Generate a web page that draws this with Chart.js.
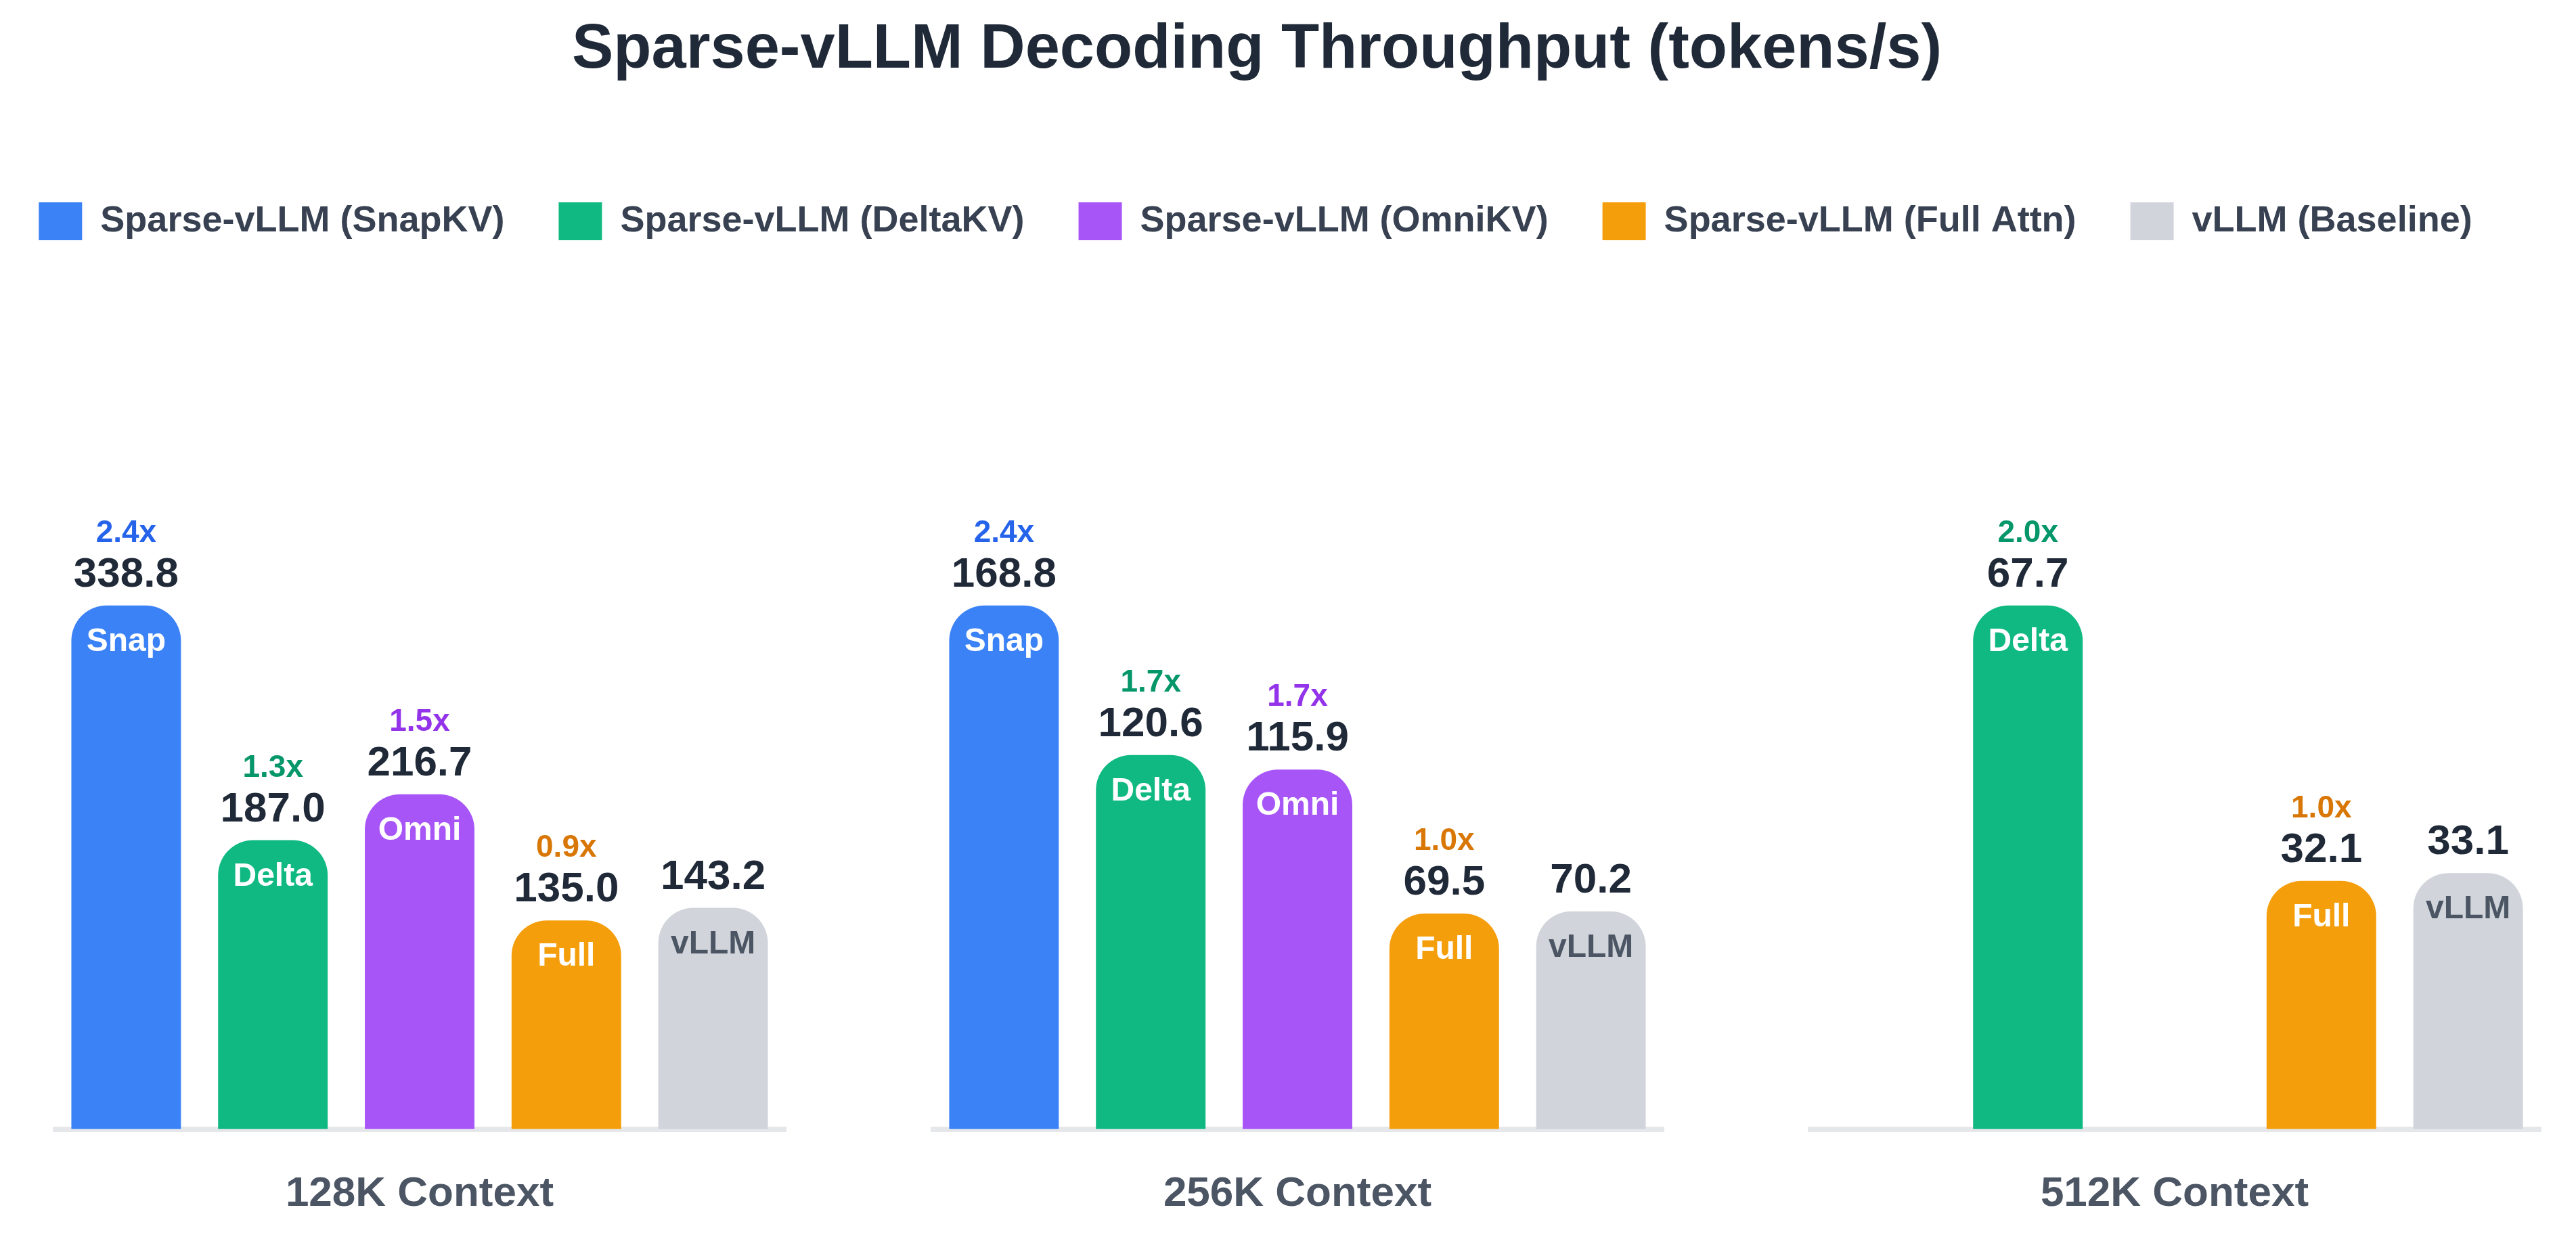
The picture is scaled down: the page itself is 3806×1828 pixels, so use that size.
<!DOCTYPE html>
<html>
<head>
<meta charset="utf-8">
<title>Sparse-vLLM Decoding Throughput</title>
<script src="https://cdn.jsdelivr.net/npm/chart.js@4.4.1/dist/chart.umd.min.js"></script>
<style>
  html, body { margin: 0; padding: 0; background: #ffffff; }
  #wrap { position: relative; width: 3806px; height: 1828px; overflow: hidden; }
  canvas { position: absolute; }
</style>
</head>
<body>
<div id="wrap">
  <canvas id="title" width="3714" height="219" style="left:0;top:0"></canvas>
  <canvas id="legend" width="3810" height="380" style="left:-50px;top:219px"></canvas>
  <canvas id="chart128" width="1084" height="1202" style="left:78px;top:600px"></canvas>
  <canvas id="chart256" width="1084" height="1202" style="left:1375px;top:600px"></canvas>
  <canvas id="chart512" width="1084" height="1202" style="left:2671px;top:600px"></canvas>
</div>
<script>
const FONT = "'Liberation Sans', Arial, Helvetica, sans-serif";

// methods shown in the legend and the short names written inside the bars
const methods = ['Sparse-vLLM (SnapKV)', 'Sparse-vLLM (DeltaKV)', 'Sparse-vLLM (OmniKV)', 'Sparse-vLLM (Full Attn)', 'vLLM (Baseline)'];
const shortNames = ['Snap', 'Delta', 'Omni', 'Full', 'vLLM'];

// decoding throughput (tokens/s) per context length
const throughput128 = [338.8, 187.0, 216.7, 135.0, 143.2];
const throughput256 = [168.8, 120.6, 115.9, 69.5, 70.2];
const throughput512 = [null, 67.7, null, 32.1, 33.1];

// speedup over the vLLM baseline, as printed above the bars
const speedup128 = ['2.4x', '1.3x', '1.5x', '0.9x', null];
const speedup256 = ['2.4x', '1.7x', '1.7x', '1.0x', null];
const speedup512 = [null, '2.0x', null, '1.0x', null];

const barColors = ['#3b82f6', '#10b981', '#a855f7', '#f59e0b', '#d1d5db'];
const speedupColors = ['#2563eb', '#059669', '#9333ea', '#d97706', '#4b5563'];
const innerTextColors = ['#ffffff', '#ffffff', '#ffffff', '#ffffff', '#4b5563'];

// draws speedup, value and short name for every bar
const barLabels = {
    id: 'barLabels',
    afterDatasetsDraw(chart, args, opts) {
        const ctx = chart.ctx;
        const values = chart.data.datasets[0].data;
        const meta = chart.getDatasetMeta(0);
        ctx.save();
        ctx.textAlign = 'center';
        ctx.textBaseline = 'alphabetic';
        meta.data.forEach((bar, i) => {
            if (values[i] === null) return;
            ctx.font = 'bold 48px ' + FONT;
            ctx.fillStyle = innerTextColors[i];
            ctx.fillText(shortNames[i], bar.x, bar.y + 67);

            ctx.font = 'bold 62px ' + FONT;
            ctx.fillStyle = '#1f2937';
            ctx.fillText(values[i].toFixed(1), bar.x, bar.y - 28);

            if (opts.speedups[i]) {
                ctx.font = 'bold 46px ' + FONT;
                ctx.fillStyle = speedupColors[i];
                ctx.fillText(opts.speedups[i], bar.x, bar.y - 94);
            }
        });
        ctx.restore();
    }
};

function makePanel(id, title, values, speedups) {
    const ctx = document.getElementById(id).getContext('2d');
    return new Chart(ctx, {
        type: 'bar',
        data: {
            labels: shortNames,
            datasets: [{
                data: values,
                backgroundColor: barColors,
                borderRadius: { topLeft: 52, topRight: 52, bottomLeft: 0, bottomRight: 0 },
                borderSkipped: false,
                barPercentage: 0.747,
                categoryPercentage: 1.0
            }]
        },
        options: {
            responsive: false,
            animation: false,
            events: [],
            layout: { padding: 0 },
            plugins: {
                legend: { display: false },
                tooltip: { enabled: false },
                barLabels: { speedups: speedups }
            },
            scales: {
                x: {
                    ticks: { display: false },
                    grid: { display: false },
                    border: { display: true, color: '#e5e7eb', width: 8 },
                    title: {
                        display: true,
                        text: title,
                        color: '#4b5563',
                        font: { family: FONT, size: 62, weight: 'bold' },
                        padding: { top: 51, bottom: 0 }
                    }
                },
                y: {
                    display: false,
                    min: 0,
                    max: Math.max(...values.filter(v => v !== null)) * 1.381
                }
            }
        },
        plugins: [barLabels]
    });
}

// chart title
new Chart(document.getElementById('title').getContext('2d'), {
    type: 'bar',
    data: { labels: [], datasets: [] },
    options: {
        responsive: false,
        animation: false,
        events: [],
        plugins: {
            title: {
                display: true,
                text: 'Sparse-vLLM Decoding Throughput (tokens/s)',
                color: '#1f2937',
                font: { family: FONT, size: 92, weight: 'bold' },
                padding: { top: 19, bottom: 10 }
            },
            legend: { display: false },
            tooltip: { enabled: false }
        },
        scales: { x: { display: false }, y: { display: false } }
    }
});

// shared legend for the three panels
new Chart(document.getElementById('legend').getContext('2d'), {
    type: 'bar',
    data: {
        labels: [],
        datasets: methods.map((m, i) => ({ label: m, data: [], backgroundColor: barColors[i] }))
    },
    options: {
        responsive: false,
        animation: false,
        events: [],
        plugins: {
            legend: {
                display: true,
                position: 'top',
                maxHeight: 300,
                labels: {
                    color: '#374151',
                    font: { family: FONT, size: 54, weight: 'bold' },
                    boxWidth: 64,
                    boxHeight: 56,
                    padding: 80
                }
            },
            tooltip: { enabled: false }
        },
        scales: { x: { display: false }, y: { display: false } }
    }
});

makePanel('chart128', '128K Context', throughput128, speedup128);
makePanel('chart256', '256K Context', throughput256, speedup256);
makePanel('chart512', '512K Context', throughput512, speedup512);
</script>
</body>
</html>
